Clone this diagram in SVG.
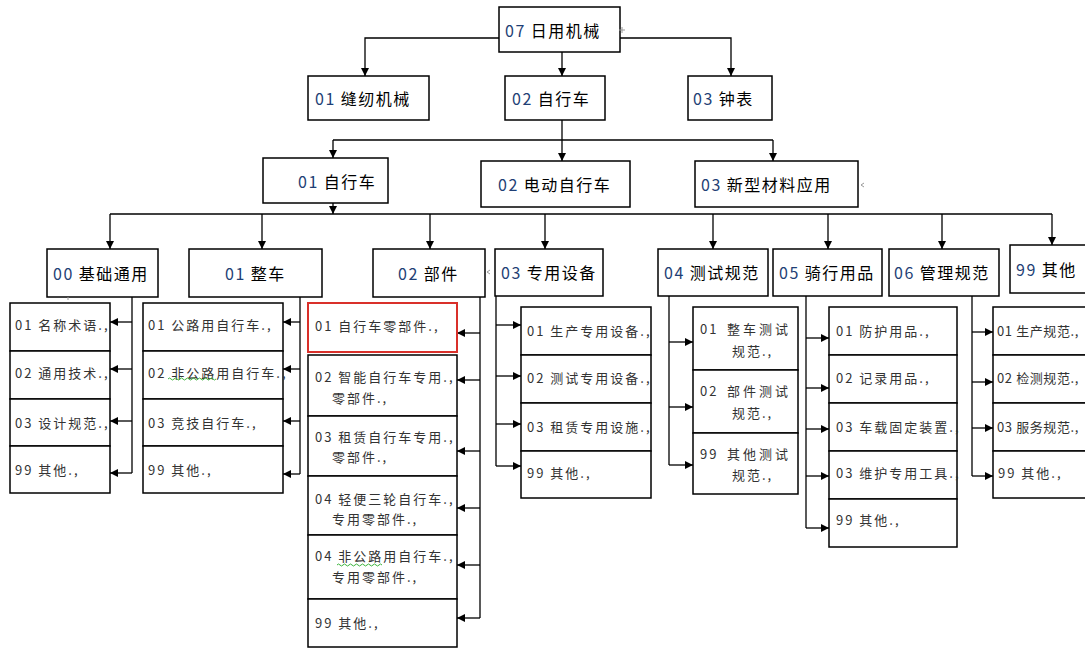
<svg xmlns="http://www.w3.org/2000/svg" width="1085" height="648" viewBox="0 0 1085 648">
<defs>
<marker id="arr" markerUnits="userSpaceOnUse" markerWidth="9" markerHeight="9" refX="8" refY="4" orient="auto">
<path d="M0,0 L8,4 L0,8 z" fill="#000"/>
</marker>
</defs>
<style>
.box{fill:#fff;stroke:#000;stroke-width:1.5}
.red{fill:#fff;stroke:#d9302a;stroke-width:2}
.c{fill:none;stroke:#000;stroke-width:1.3}
.ca{fill:none;stroke:#000;stroke-width:1.3;marker-end:url(#arr)}
.t{font-family:"Noto Sans CJK SC","Noto Sans",sans-serif;font-size:16px;letter-spacing:1.5px;fill:#000;dominant-baseline:central}
.n{fill:#1f3f75}
.l{font-family:"Noto Sans CJK SC","Noto Sans",sans-serif;font-size:13px;letter-spacing:2px;fill:#333;dominant-baseline:central}
.r{letter-spacing:0.6px}
.w{fill:none;stroke:#3cb43c;stroke-width:1}
.g{fill:none;stroke:#999;stroke-width:1}
</style>
<rect width="1085" height="648" fill="#fff"/>

<g id="connectors">
<path class="ca" d="M562,52 V76"/>
<path class="ca" d="M499,38 H365 V76"/>
<path class="ca" d="M620,38 H731 V76"/>
<path class="ca" d="M562,120 V161"/>
<path class="c" d="M333,140 H773"/>
<path class="ca" d="M333,140 V158"/>
<path class="ca" d="M773,140 V161"/>
<path class="ca" d="M333,203 V214"/>
<path class="c" d="M110,214 H1052"/>
<path class="ca" d="M110,214 V249"/>
<path class="ca" d="M262,214 V249"/>
<path class="ca" d="M430,214 V249"/>
<path class="ca" d="M545,214 V249"/>
<path class="ca" d="M713,214 V249"/>
<path class="ca" d="M828,214 V249"/>
<path class="ca" d="M942,214 V249"/>
<path class="ca" d="M1052,214 V245"/>
<!-- 00 -->
<path class="c" d="M132,297 V473"/>
<path class="ca" d="M132,322 H110"/>
<path class="ca" d="M132,369 H110"/>
<path class="ca" d="M132,421 H110"/>
<path class="ca" d="M132,473 H110"/>
<!-- 01 -->
<path class="c" d="M300,297 V474"/>
<path class="ca" d="M300,322 H283"/>
<path class="ca" d="M300,369 H283"/>
<path class="ca" d="M300,421 H283"/>
<path class="ca" d="M300,474 H283"/>
<!-- 02 -->
<path class="c" d="M480,297 V618"/>
<path class="ca" d="M480,333 H457"/>
<path class="ca" d="M480,380 H457"/>
<path class="ca" d="M480,451 H457"/>
<path class="ca" d="M480,508 H457"/>
<path class="ca" d="M480,565 H457"/>
<path class="ca" d="M480,618 H457"/>
<!-- 03 -->
<path class="c" d="M496,296 V466"/>
<path class="ca" d="M496,325 H521"/>
<path class="ca" d="M496,376 H521"/>
<path class="ca" d="M496,424 H521"/>
<path class="ca" d="M496,466 H521"/>
<!-- 04 -->
<path class="c" d="M669,296 V465"/>
<path class="ca" d="M669,342 H693"/>
<path class="ca" d="M669,407 H693"/>
<path class="ca" d="M669,465 H693"/>
<!-- 05 -->
<path class="c" d="M806,296 V528"/>
<path class="ca" d="M806,338 H829"/>
<path class="ca" d="M806,388 H829"/>
<path class="ca" d="M806,429 H829"/>
<path class="ca" d="M806,476 H829"/>
<path class="ca" d="M806,528 H829"/>
<!-- 06 -->
<path class="c" d="M972,296 V476"/>
<path class="ca" d="M972,332 H993"/>
<path class="ca" d="M972,382 H993"/>
<path class="ca" d="M972,428 H993"/>
<path class="ca" d="M972,476 H993"/>
</g>

<g id="n07"><rect class="box" x="499" y="7" width="121" height="45"/><text class="t" x="505" y="30"><tspan class="n">07</tspan> 日用机械</text></g>
<g id="n01feng"><rect class="box" x="308" y="76" width="121" height="44"/><text class="t" x="315" y="98"><tspan class="n">01</tspan> 缝纫机械</text></g>
<g id="n02zxc"><rect class="box" x="505" y="76" width="100" height="44"/><text class="t" x="512" y="98"><tspan class="n">02</tspan> 自行车</text></g>
<g id="n03zb"><rect class="box" x="688" y="76" width="84" height="44"/><text class="t" x="693" y="98"><tspan class="n">03</tspan> 钟表</text></g>

<g id="n01zxc"><rect class="box" x="263" y="158" width="125" height="45"/><text class="t" x="298" y="181"><tspan class="n">01</tspan> 自行车</text></g>
<g id="n02dd"><rect class="box" x="481" y="161" width="149" height="46"/><text class="t" x="498" y="184"><tspan class="n">02</tspan> 电动自行车</text></g>
<g id="n03xx"><rect class="box" x="695" y="161" width="163" height="46"/><text class="t" x="701" y="184"><tspan class="n">03</tspan> 新型材料应用</text></g>

<g id="c00"><rect class="box" x="47" y="249" width="111" height="48"/><text class="t" x="53" y="273"><tspan class="n">00</tspan> 基础通用</text></g>
<g id="c01"><rect class="box" x="189" y="249" width="133" height="48"/><text class="t" x="225" y="273"><tspan class="n">01</tspan> 整车</text></g>
<g id="c02"><rect class="box" x="373" y="249" width="112" height="48"/><text class="t" x="398" y="273"><tspan class="n">02</tspan> 部件</text></g>
<g id="c03"><rect class="box" x="495" y="249" width="108" height="47"/><text class="t" x="501" y="272"><tspan class="n">03</tspan> 专用设备</text></g>
<g id="c04"><rect class="box" x="658" y="249" width="110" height="47"/><text class="t" x="664" y="272"><tspan class="n">04</tspan> 测试规范</text></g>
<g id="c05"><rect class="box" x="773" y="249" width="109" height="47"/><text class="t" x="779" y="272"><tspan class="n">05</tspan> 骑行用品</text></g>
<g id="c06"><rect class="box" x="889" y="249" width="110" height="47"/><text class="t" x="894" y="272"><tspan class="n">06</tspan> 管理规范</text></g>
<g id="c99"><rect class="box" x="1010" y="245" width="80" height="48"/><text class="t" x="1016" y="269"><tspan class="n">99</tspan> 其他</text></g>

<!-- column 00 -->
<g id="l00-01"><rect class="box" x="10" y="303" width="100" height="48"/><text class="l" x="15" y="324">01 名称术语.,</text></g>
<g id="l00-02"><rect class="box" x="10" y="351" width="100" height="48"/><text class="l" x="15" y="372">02 通用技术.,</text></g>
<g id="l00-03"><rect class="box" x="10" y="399" width="100" height="47"/><text class="l" x="15" y="422">03 设计规范.,</text></g>
<g id="l00-99"><rect class="box" x="10" y="446" width="100" height="47"/><text class="l" x="15" y="469">99 其他.,</text></g>

<!-- column 01 -->
<g id="l01-01"><rect class="box" x="143" y="303" width="140" height="48"/><text class="l" x="148" y="324">01 公路用自行车.,</text></g>
<g id="l01-02"><rect class="box" x="143" y="351" width="140" height="48"/><text class="l" x="148" y="372">02 非公路用自行车.,</text><path class="w" d="M168,379 q1.5,-2 3,0 t3,0 t3,0 t3,0 t3,0 t3,0 t3,0 t3,0 t3,0 t3,0 t3,0 t3,0 t3,0 t3,0 t3,0 t3,0"/></g>
<g id="l01-03"><rect class="box" x="143" y="399" width="140" height="47"/><text class="l" x="148" y="422">03 竞技自行车.,</text></g>
<g id="l01-99"><rect class="box" x="143" y="446" width="140" height="47"/><text class="l" x="148" y="469">99 其他.,</text></g>

<!-- column 02 -->
<g id="l02-01"><rect class="red" x="308" y="303" width="149" height="49"/><text class="l" x="315" y="325">01 自行车零部件.,</text></g>
<g id="l02-02"><rect class="box" x="308" y="355" width="149" height="61"/><text class="l" x="315" y="376">02 智能自行车专用.,</text><text class="l" x="332" y="397">零部件.,</text></g>
<g id="l02-03"><rect class="box" x="308" y="416" width="149" height="60"/><text class="l" x="315" y="436">03 租赁自行车专用.,</text><text class="l" x="332" y="456">零部件.,</text></g>
<g id="l02-04a"><rect class="box" x="308" y="476" width="149" height="59"/><text class="l" x="315" y="498">04 轻便三轮自行车.,</text><text class="l" x="332" y="518">专用零部件.,</text></g>
<g id="l02-04b"><rect class="box" x="308" y="535" width="149" height="64"/><text class="l" x="315" y="555">04 非公路用自行车.,</text><text class="l" x="332" y="576">专用零部件.,</text><path class="w" d="M337,565 q1.5,-2 3,0 t3,0 t3,0 t3,0 t3,0 t3,0 t3,0 t3,0 t3,0 t3,0 t3,0 t3,0 t3,0 t3,0 t3,0"/></g>
<g id="l02-99"><rect class="box" x="308" y="599" width="149" height="48"/><text class="l" x="315" y="622">99 其他.,</text></g>

<!-- column 03 -->
<g id="l03-01"><rect class="box" x="521" y="307" width="130" height="48"/><text class="l" x="527" y="330">01 生产专用设备.,</text></g>
<g id="l03-02"><rect class="box" x="521" y="355" width="130" height="48"/><text class="l" x="527" y="377">02 测试专用设备.,</text></g>
<g id="l03-03"><rect class="box" x="521" y="403" width="130" height="48"/><text class="l" x="527" y="426">03 租赁专用设施.,</text></g>
<g id="l03-99"><rect class="box" x="521" y="451" width="130" height="47"/><text class="l" x="527" y="472">99 其他.,</text></g>

<!-- column 04 -->
<g id="l04-01"><rect class="box" x="693" y="307" width="105" height="63"/><text class="l" x="700" y="328">01</text><text class="l" x="727" y="328" style="letter-spacing:3px">整车测试</text><text class="l" x="732" y="350">规范.,</text></g>
<g id="l04-02"><rect class="box" x="693" y="370" width="105" height="63"/><text class="l" x="700" y="390">02</text><text class="l" x="727" y="390" style="letter-spacing:3px">部件测试</text><text class="l" x="732" y="412">规范.,</text></g>
<g id="l04-99"><rect class="box" x="693" y="433" width="105" height="61"/><text class="l" x="700" y="453">99</text><text class="l" x="727" y="453" style="letter-spacing:3px">其他测试</text><text class="l" x="732" y="474">规范.,</text></g>

<!-- column 05 -->
<g id="l05-01"><rect class="box" x="829" y="307" width="128" height="48"/><text class="l" x="836" y="330">01 防护用品.,</text></g>
<g id="l05-02"><rect class="box" x="829" y="355" width="128" height="48"/><text class="l" x="836" y="377">02 记录用品.,</text></g>
<g id="l05-03"><rect class="box" x="829" y="403" width="128" height="48"/><text class="l" x="836" y="426">03 车载固定装置.,</text></g>
<g id="l05-04"><rect class="box" x="829" y="451" width="128" height="48"/><text class="l" x="836" y="472">03 维护专用工具.,</text></g>
<g id="l05-99"><rect class="box" x="829" y="499" width="128" height="48"/><text class="l" x="836" y="519">99 其他.,</text></g>

<!-- column 06 -->
<g id="l06-01"><rect class="box" x="993" y="307" width="100" height="48"/><text class="l r" x="997" y="330">01 生产规范.,</text></g>
<g id="l06-02"><rect class="box" x="993" y="355" width="100" height="48"/><text class="l r" x="997" y="377">02 检测规范.,</text></g>
<g id="l06-03"><rect class="box" x="993" y="403" width="100" height="48"/><text class="l r" x="997" y="426">03 服务规范.,</text></g>
<g id="l06-99"><rect class="box" x="993" y="451" width="100" height="47"/><text class="l" x="998" y="472">99 其他.,</text></g>

<g id="marks">
<path class="g" d="M619,30 h6 M622,27 v6"/>
<path class="g" d="M864,183 l-3,2 l3,2"/>
<path class="g" d="M490,270 l-3,2 l3,2"/>
<path class="g" d="M68,297 v3"/>
</g>
</svg>
